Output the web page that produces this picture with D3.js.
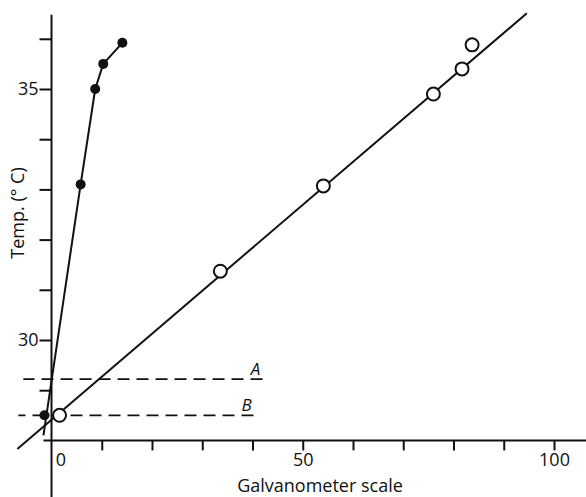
<!DOCTYPE html>
<html>
<head>
<meta charset="utf-8">
<script src="https://cdn.jsdelivr.net/npm/d3@7"></script>
<style>
  html, body { margin: 0; padding: 0; background: #fff; }
  svg { display: block; }
  text { font-family: "Open Sans", "Lato", sans-serif; fill: #111; }
</style>
</head>
<body>
<svg id="chart" width="586" height="497"></svg>
<script>
// Galvanometer reading against temperature (°C)
const filledGalv = [-1.4, 5.8, 8.7, 10.3, 14.1];
const filledTemp = [28.5, 33.1, 35.0, 35.5, 35.92];

const openGalv = [1.6, 33.6, 54.1, 76.0, 81.7, 83.7];
const openTemp = [28.5, 31.37, 33.07, 34.9, 35.4, 35.88];

// Straight calibration line through the open points
const fitGalv = [-6.8, 94.6];
const fitTemp = [27.83, 36.51];

// Lower end of the steep line through the filled points
const steepStartGalv = -1.6;
const steepStartTemp = 28.1;

// Reference levels A and B
const levelNames = ["A", "B"];
const levelTemp = [29.22, 28.5];
const levelEndGalv = [42, 40.2];
const levelStartGalv = [-5.6, -6.6];

const xTicks = [0, 10, 20, 30, 40, 50, 60, 70, 80, 90, 100];
const xTickLabels = { 0: "0", 50: "50", 100: "100" };
const yTicks = [29, 30, 31, 32, 33, 34, 35, 36];
const yTickLabels = { 30: "30", 35: "35" };

const svg = d3.select("#chart");
const W = 586, H = 497;

const x = d3.scaleLinear().domain([0, 100]).range([51.5, 554]);
const y = d3.scaleLinear().domain([30, 35]).range([340, 89]);

const ink = "#111";
const fontSize = "18px";

// Axes lines: y-axis at galvanometer 0, x-axis at 28 °C
svg.append("line")
  .attr("x1", x(0)).attr("x2", x(0))
  .attr("y1", y(36.48)).attr("y2", H)
  .attr("stroke", ink).attr("stroke-width", 2);
svg.append("line")
  .attr("x1", x(-1.6)).attr("x2", W)
  .attr("y1", y(28)).attr("y2", y(28))
  .attr("stroke", ink).attr("stroke-width", 2);

// Y axis ticks and labels
const yAxis = d3.axisLeft(y)
  .tickValues(yTicks)
  .tickSize(12)
  .tickPadding(1)
  .tickFormat(d => yTickLabels[d] || "");
const gy = svg.append("g").attr("transform", `translate(${x(0)},0)`).call(yAxis);
gy.select(".domain").remove();
gy.selectAll(".tick line").attr("stroke", ink).attr("stroke-width", 2);
gy.selectAll(".tick text")
  .style("font-family", '"Open Sans", sans-serif')
  .style("font-size", fontSize).attr("fill", ink);

// X axis ticks and labels
const xAxis = d3.axisBottom(x)
  .tickValues(xTicks)
  .tickSize(10)
  .tickPadding(3)
  .tickFormat(d => xTickLabels[d] || "");
const gx = svg.append("g").attr("transform", `translate(0,${y(28)})`).call(xAxis);
gx.select(".domain").remove();
gx.selectAll(".tick line").attr("stroke", ink).attr("stroke-width", 2)
  .filter(d => d === 0).remove();
gx.selectAll(".tick text")
  .style("font-family", '"Open Sans", sans-serif')
  .style("font-size", fontSize).attr("fill", ink)
  .attr("dx", d => d === 0 ? 9 : 0);

// Axis titles
svg.append("text")
  .attr("x", 320).attr("y", 492)
  .attr("text-anchor", "middle")
  .style("font-size", fontSize)
  .text("Galvanometer scale");
svg.append("text")
  .attr("transform", `translate(24,213) rotate(-90)`)
  .attr("text-anchor", "middle")
  .style("font-size", fontSize)
  .text("Temp. (° C)");

// Dashed reference levels, drawn from the labelled end so a full dash sits under each letter
levelNames.forEach((name, i) => {
  svg.append("line")
    .attr("x1", x(levelEndGalv[i])).attr("x2", x(levelStartGalv[i]))
    .attr("y1", y(levelTemp[i])).attr("y2", y(levelTemp[i]))
    .attr("stroke", ink).attr("stroke-width", 1.8)
    .attr("stroke-dasharray", "12,7");
  svg.append("text")
    .attr("x", x(levelEndGalv[i]) - 7).attr("y", y(levelTemp[i]) - 4)
    .attr("text-anchor", "middle")
    .style("font-size", "17px").style("font-style", "italic")
    .text(name);
});

const line = d3.line().x(d => x(d[0])).y(d => y(d[1]));

// Open-point calibration line
svg.append("path")
  .datum(fitGalv.map((g, i) => [g, fitTemp[i]]))
  .attr("d", line)
  .attr("fill", "none").attr("stroke", ink).attr("stroke-width", 2);

// Steep line through the filled points
const steep = [[steepStartGalv, steepStartTemp]]
  .concat(filledGalv.slice(1).map((g, i) => [g, filledTemp[i + 1]]));
svg.append("path")
  .datum(steep)
  .attr("d", line)
  .attr("fill", "none").attr("stroke", ink).attr("stroke-width", 2)
  .attr("stroke-linejoin", "round");

// Filled points
svg.selectAll("circle.filled")
  .data(filledGalv.map((g, i) => [g, filledTemp[i]]))
  .join("circle")
  .attr("class", "filled")
  .attr("cx", d => x(d[0])).attr("cy", d => y(d[1]))
  .attr("r", 5).attr("fill", ink);

// Open points
svg.selectAll("circle.open")
  .data(openGalv.map((g, i) => [g, openTemp[i]]))
  .join("circle")
  .attr("class", "open")
  .attr("cx", d => x(d[0])).attr("cy", d => y(d[1]))
  .attr("r", 6.5).attr("fill", "#fff")
  .attr("stroke", ink).attr("stroke-width", 2);
</script>
</body>
</html>
